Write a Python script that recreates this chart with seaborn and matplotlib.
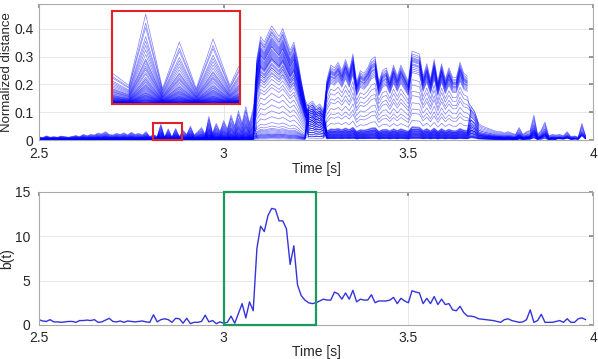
import numpy as np
import pandas as pd
import seaborn as sns
import matplotlib.pyplot as plt
from matplotlib.patches import Rectangle

# sample times (0.01 s steps, 2.50 .. 3.98)
t = np.round(2.5 + 0.01 * np.arange(149), 2)

# b(t)
b_vals = [0.6, 0.45, 0.4, 0.6, 0.35, 0.35, 0.3, 0.35, 0.4, 0.4,
          0.3, 0.5, 0.5, 0.55, 0.5, 0.6, 0.3, 0.35, 0.55, 0.75,
          0.4, 0.35, 0.45, 0.3, 0.45, 0.4, 0.35, 0.4, 0.45, 0.35,
          0.3, 1.15, 0.35, 0.6, 0.7, 0.6, 0.3, 0.75, 0.7, 0.2,
          0.75, 0.15, 0.3, 0.3, 0.4, 1.1, 0.35, 0.5, 0.15, 0.35,
          0.2, 0.3, 1.0, 0.2, 1.3, 2.4, 0.8, 2.6, 1.6, 8.6,
          11.1, 10.5, 12.3, 13.1, 13.0, 11.7, 11.7, 10.8, 6.8, 8.9,
          4.5, 3.3, 2.8, 2.5, 2.4, 2.5, 2.7, 2.9, 2.8, 2.8,
          3.7, 3.5, 2.9, 3.6, 2.9, 3.9, 2.6, 2.9, 2.8, 2.8,
          3.4, 2.5, 2.7, 2.7, 2.7, 2.8, 3.1, 2.4, 3.0, 2.7,
          2.5, 3.85, 3.7, 3.6, 2.4, 3.0, 2.4, 3.2, 2.3, 2.9,
          2.3, 2.4, 1.7, 1.6, 2.1, 1.4, 1.0, 1.0, 0.9, 0.7,
          0.65, 0.6, 0.55, 0.5, 0.4, 0.3, 0.6, 0.7, 0.5, 0.4,
          0.3, 0.35, 0.6, 1.7, 0.3, 0.5, 1.2, 0.3, 0.3, 0.3,
          0.4, 0.5, 0.3, 0.7, 0.3, 0.3, 0.7, 0.8, 0.6]

# upper envelope of the normalized distance curves
envelope = [0.012, 0.008, 0.015, 0.01, 0.012, 0.01, 0.014, 0.012, 0.01, 0.013,
            0.016, 0.012, 0.02, 0.015, 0.02, 0.018, 0.025, 0.022, 0.03, 0.02,
            0.018, 0.024, 0.02, 0.026, 0.018, 0.028, 0.02, 0.024, 0.018, 0.03,
            0.012, 0.02, 0.012, 0.058, 0.01, 0.04, 0.01, 0.042, 0.012, 0.035,
            0.02, 0.05, 0.018, 0.03, 0.045, 0.02, 0.085, 0.025, 0.06, 0.03,
            0.07, 0.04, 0.09, 0.05, 0.105, 0.06, 0.12, 0.06, 0.115,
            0.30, 0.38, 0.36, 0.39, 0.42, 0.40, 0.38, 0.41, 0.37, 0.33,
            0.36, 0.30, 0.22, 0.15,
            0.13, 0.14, 0.12, 0.13, 0.11,
            0.22, 0.27, 0.26, 0.28, 0.25, 0.29, 0.25, 0.31, 0.21, 0.25,
            0.24, 0.26, 0.29, 0.30, 0.21, 0.25, 0.26, 0.22, 0.27, 0.23,
            0.27, 0.24, 0.21, 0.32, 0.315, 0.31, 0.23, 0.275, 0.22, 0.29,
            0.21, 0.275, 0.22, 0.26, 0.225, 0.225, 0.28, 0.24, 0.23,
            0.12, 0.10, 0.06, 0.05, 0.045, 0.04, 0.035, 0.03, 0.03, 0.025,
            0.03, 0.025, 0.02, 0.045, 0.02, 0.03, 0.035, 0.09, 0.02, 0.035,
            0.065, 0.015, 0.02, 0.018, 0.02, 0.015, 0.03, 0.012, 0.015, 0.01,
            0.06, 0.015]

# segment limits: onset, burst, dip, sustained part, tail
seg_edges = [3.085, 3.225, 3.275, 3.665]

# relative level of each curve in each segment
gain_a = [1.0, 0.9, 0.85, 0.75, 0.7, 0.65, 0.6, 0.55, 0.5, 0.48,
          0.45, 0.42, 0.4, 0.38, 0.35, 0.33, 0.3, 0.28, 0.27, 0.25,
          0.24, 0.22, 0.21, 0.2, 0.19, 0.18, 0.17, 0.16, 0.15, 0.14,
          0.13, 0.12, 0.12, 0.11, 0.1, 0.1, 0.09, 0.09, 0.08, 0.08,
          0.07, 0.07, 0.06, 0.06, 0.05, 0.05, 0.05, 0.04, 0.04, 0.04,
          0.03, 0.03, 0.03, 0.02, 0.02, 0.02, 0.02, 0.01, 0.01, 0.01]
gain_b = [0.55, 0.98, 0.12, 0.8, 0.7, 0.05, 0.92, 0.62, 0.85, 0.3,
          0.74, 0.03, 0.88, 0.66, 0.78, 0.1, 0.58, 0.95, 0.72, 0.02,
          0.82, 0.45, 0.68, 0.9, 0.08, 0.76, 0.6, 0.86, 0.35, 0.7,
          0.04, 0.8, 0.64, 0.93, 0.15, 0.75, 0.52, 0.83, 0.06, 0.71,
          0.4, 0.87, 0.02, 0.65, 0.77, 0.09, 0.57, 0.81, 0.25, 0.03,
          0.69, 0.07, 0.48, 0.05, 0.84, 0.2, 0.01, 0.62, 0.04, 0.73]
gain_c = [0.7, 0.9, 0.5, 0.8, 0.6, 0.85, 0.75, 0.4, 0.95, 0.3,
          0.65, 0.8, 0.55, 0.7, 0.45, 1.0, 0.6, 0.75, 0.35, 0.9,
          0.5, 0.25, 0.8, 0.65, 0.7, 0.4, 0.55, 0.6, 0.2, 0.85,
          0.75, 0.5, 0.3, 0.45, 0.9, 0.6, 0.35, 0.7, 0.8, 0.5,
          0.15, 0.4, 0.65, 0.3, 0.55, 0.75, 0.2, 0.45, 0.1, 0.6,
          0.35, 0.5, 0.1, 0.25, 0.4, 0.15, 0.3, 0.2, 0.1, 0.05]
gain_d = [0.55, 1.0, 0.08, 0.93, 0.42, 0.05, 0.9, 0.12, 0.86, 0.03,
          0.62, 0.1, 0.95, 0.06, 0.3, 0.14, 0.04, 0.82, 0.09, 0.02,
          0.88, 0.07, 0.22, 0.97, 0.11, 0.05, 0.13, 0.8, 0.03, 0.08,
          0.15, 0.91, 0.06, 0.84, 0.02, 0.5, 0.1, 0.78, 0.04, 0.12,
          0.07, 0.89, 0.03, 0.35, 0.09, 0.05, 0.14, 0.76, 0.02, 0.11,
          0.68, 0.06, 0.08, 0.04, 0.85, 0.12, 0.03, 0.07, 0.1, 0.92]
gain_e = [0.9, 0.0, 0.3, 0.0, 0.7, 0.2, 0.0, 0.5, 0.0, 0.15,
          1.0, 0.4, 0.0, 0.25, 0.6, 0.8, 0.1, 0.0, 0.35, 0.12,
          0.0, 0.3, 0.45, 0.0, 0.6, 0.2, 0.7, 0.0, 0.1, 0.28,
          1.0, 0.0, 0.22, 0.0, 0.08, 0.85, 0.5, 0.0, 0.15, 0.45,
          0.3, 0.0, 0.1, 0.55, 0.35, 0.18, 0.9, 0.0, 0.06, 0.4,
          0.75, 0.2, 0.3, 0.12, 0.0, 0.6, 0.08, 0.25, 0.4, 0.0]
end_t = [3.69, 3.66, 3.98, 3.66, 3.69, 3.9, 3.66, 3.98, 3.66, 3.85,
         3.69, 3.98, 3.66, 3.9, 3.69, 3.98, 3.8, 3.66, 3.98, 3.9,
         3.66, 3.98, 3.69, 3.66, 3.95, 3.85, 3.98, 3.66, 3.9, 3.98,
         3.98, 3.66, 3.95, 3.66, 3.8, 3.69, 3.98, 3.66, 3.9, 3.98,
         3.95, 3.66, 3.85, 3.69, 3.98, 3.9, 3.98, 3.66, 3.8, 3.98,
         3.69, 3.95, 3.98, 3.85, 3.66, 3.98, 3.9, 3.98, 3.95, 3.66]

gains = np.array([gain_a, gain_b, gain_c, gain_d, gain_e])
seg = np.searchsorted(seg_edges, t)
env = np.array(envelope)

rows = []
for j in range(len(gain_a)):
    for i, ti in enumerate(t):
        if ti <= end_t[j] + 1e-9:
            rows.append((j, ti, env[i] * gains[seg[i], j]))
df_top = pd.DataFrame(rows, columns=['line', 't', 'd'])
df_b = pd.DataFrame({'t': t, 'b': b_vals})

sns.set_theme(style='whitegrid')
plt.rcParams['font.family'] = ['Liberation Sans', 'DejaVu Sans']

fig = plt.figure(figsize=(5.98, 3.59), dpi=100)
ax1 = fig.add_axes([39 / 598, 1 - 140 / 359, 554 / 598, 136 / 359])
ax2 = fig.add_axes([39 / 598, 1 - 325 / 359, 554 / 598, 133.5 / 359])


def style(ax, xpad=5, ypad=4):
    for s in ax.spines.values():
        s.set_color('#aaaaaa')
        s.set_linewidth(0.8)
    ax.grid(True, color='#e4e4e4', lw=0.6)
    ax.tick_params(direction='in', length=3, top=True, right=True,
                   color='#888888', labelsize=10, labelcolor='#262626')
    ax.tick_params(axis='x', pad=xpad)
    ax.tick_params(axis='y', pad=ypad)
    ax.set_xlim(2.5, 4)
    ax.set_xticks([2.5, 3, 3.5, 4])
    ax.set_xticklabels(['2.5', '3', '3.5', '4'])
    ax.set_xlabel('Time [s]', fontsize=10, color='#262626', labelpad=1)


sns.lineplot(data=df_top, x='t', y='d', units='line', estimator=None,
             color='#0000ff', lw=0.5, alpha=0.5, ax=ax1, legend=False)
style(ax1)
ax1.set_ylim(0, 0.49)
ax1.set_yticks([0, 0.1, 0.2, 0.3, 0.4])
ax1.set_yticklabels(['0', '0.1', '0.2', '0.3', '0.4'])
ax1.set_ylabel('Normalized distance', fontsize=9.5, color='#262626', labelpad=1)
ax1.add_patch(Rectangle((2.81, 0), 0.076, 0.063, fill=False, ec='#e0202a',
                        lw=1.5, zorder=5, clip_on=False))

# zoomed inset
axin = fig.add_axes([112 / 598, 1 - 104 / 359, 128 / 598, 93 / 359])
sns.lineplot(data=df_top, x='t', y='d', units='line', estimator=None,
             color='#0000ff', lw=0.5, alpha=0.5, ax=axin, legend=False)
axin.set_xlim(2.81, 2.886)
axin.set_ylim(0, 0.06)
axin.set_facecolor('white')
axin.grid(False)
axin.set_xticks([])
axin.set_yticks([])
axin.set_xlabel('')
axin.set_ylabel('')
for s in axin.spines.values():
    s.set_color('#e0202a')
    s.set_linewidth(1.5)

sns.lineplot(data=df_b, x='t', y='b', color='#3434dc', lw=1.0, ax=ax2)
style(ax2, xpad=4, ypad=6)
ax2.xaxis.labelpad = 0
ax2.set_ylim(0, 15)
ax2.set_yticks([0, 5, 10, 15])
ax2.set_ylabel('b(t)', fontsize=10, color='#262626', labelpad=1)
ax2.add_patch(Rectangle((3.0, 0), 0.25, 15, fill=False, ec='#1a9a5c',
                        lw=1.6, zorder=5, clip_on=False))

fig.savefig('out.png', dpi=100)
